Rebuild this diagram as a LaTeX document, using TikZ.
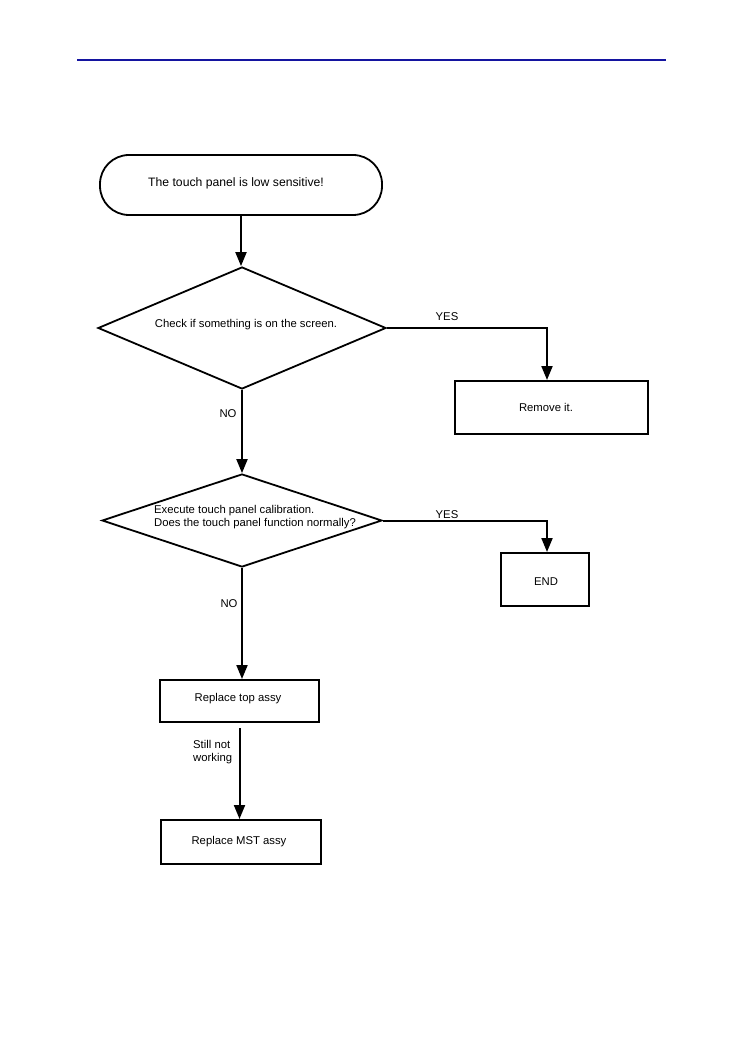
\documentclass[tikz,border=0pt]{standalone}
\usepackage{fontspec}
\setmainfont{Liberation Sans}
\usetikzlibrary{shapes.geometric,arrows.meta}
\definecolor{hdr}{RGB}{20,20,160}
\tikzset{
  box/.style={draw, line width=2pt, rectangle, inner sep=0pt},
  term/.style={draw, line width=1.8pt, rectangle, rounded corners=29pt, inner sep=0pt, minimum width=282pt, minimum height=60pt},
  dia/.style={draw, line width=1.8pt, diamond, inner sep=0pt},
  arr/.style={line width=2pt, -{Triangle[length=14pt,width=11pt]}},
  lbl/.style={font=\fontsize{11.3}{13}\selectfont, inner sep=0pt},
}
\begin{document}
\begin{tikzpicture}[x=1pt,y=-1pt]
\useasboundingbox (0,0) rectangle (749,1064);
\draw[hdr, line width=1.4pt] (77,60) -- (666,60);

\node[term] (start) at (241,185) {};
\node[lbl, font=\fontsize{12.2}{14}\selectfont] (ts) at (236,183) {The touch panel is low sensitive!};

\node[dia, minimum width=288pt, minimum height=122pt] (d1) at (242,328) {};
\node[lbl] (t1) at (246,325) {Check if something is on the screen.};

\node[box, minimum width=193pt, minimum height=53pt] (rm) at (551.5,407.5) {};
\node[lbl] (trm) at (546,407) {Remove it.};

\node[dia, minimum width=280pt, minimum height=93pt] (d2) at (242,520.5) {};
\node[lbl, align=left, anchor=west] (t2) at (154,517.5) {Execute touch panel calibration.\\Does the touch panel function normally?};

\node[box, minimum width=88pt, minimum height=53pt] (end) at (545,579.5) {};
\node[lbl] (tend) at (546,582) {END};

\node[box, minimum width=159pt, minimum height=42pt] (top) at (239.5,701) {};
\node[lbl] (ttop) at (238,699) {Replace top assy};

\node[box, minimum width=160pt, minimum height=44pt] (mst) at (241,842) {};
\node[lbl] (tmst) at (239,842) {Replace MST assy};

\draw[arr] (start.south) -- (start.south |- d1.north);
\draw[arr] (d1.east) -| ([xshift=-4.5pt]rm.north);
\draw[arr] (d1.south) -- (d2.north);
\draw[arr] (d2.east) -| ([xshift=2pt]end.north);
\draw[arr] (d2.south) -- (d2.south |- top.north);
\draw[arr] ([yshift=-5pt]top.south) -- (top.south |- mst.north);

\node[lbl] (y1) at (447,317) {YES};
\node[lbl] (y2) at (447,515) {YES};
\node[lbl] (n1) at (228,414) {NO};
\node[lbl] (n2) at (229,604) {NO};
\node[lbl, align=left, anchor=west] (sw) at (193,752) {Still not\\working};
\end{tikzpicture}
\end{document}
